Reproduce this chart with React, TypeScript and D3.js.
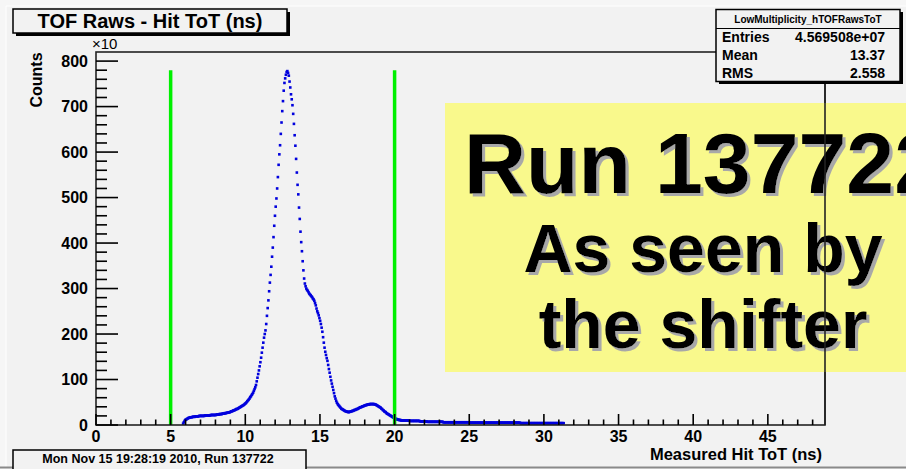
import React from "react";
import * as d3 from "d3";

// histogram: 1000 bins over 0..48.828 ns, only the filled bins are listed (counts in units of 10^3)
const BIN_WIDTH = 0.048828;
const FIRST_BIN = 119;

const riseCounts = [
  3, 6, 9, 11, 12, 13, 14, 15, 16, 16, 17,
  17, 17, 18, 18, 18, 18, 19, 19, 19, 19, 19, 20, 20, 20,
  20, 20, 20, 20, 20, 21, 21, 21, 21, 21, 21, 21, 21, 22, 22, 22, 22, 22, 22, 22,
  22, 23, 23, 23, 23, 24, 24, 24, 24, 25, 25, 25, 26, 26, 26, 27, 27, 27, 28, 28, 29,
  30, 30, 31, 32, 32, 33, 34, 35, 35, 36, 37, 38, 39, 40, 41, 42, 43, 44, 45, 47,
  48, 50, 52, 54, 56, 58, 61, 63, 66, 68, 71, 75, 79, 83, 88, 96, 104, 112, 120, 129,
  138, 148, 159, 170, 181, 192, 200, 208,
];

const peakCounts = [
  222, 240, 257, 274, 294, 313, 330, 348, 370, 390, 413, 438, 460, 480, 498,
  520, 545, 572, 595, 615, 640, 665, 690, 712, 735, 752, 762, 770, 776, 778,
  774, 768, 755, 742, 727, 716, 703, 684, 662, 637, 614, 585, 555, 528, 507,
];

const fallCounts = [
  478, 453, 425, 402, 382, 360, 340, 322, 311, 305,
  300, 297, 295, 292, 289, 287, 285, 283, 281, 278,
  276, 273, 268, 263, 256, 250, 246, 241, 235, 229,
  222, 214, 205, 193, 181, 170, 161, 154, 147, 141,
  132, 123, 115, 106, 98, 91, 84, 77, 70, 63,
  58, 53, 49, 46, 44, 42, 40, 38, 36, 35,
  34, 33, 32, 31, 30, 30, 29, 29, 28, 29, 29, 30, 30,
];

const bumpCounts = [
  31, 31, 32, 33, 33, 34, 35, 35, 36, 37,
  38, 39, 39, 40, 41, 41, 42, 43, 43, 44,
  44, 45, 45, 45, 46, 46, 46, 46, 46, 46,
  46, 45, 45, 44, 43, 42, 41, 40, 39, 38,
  36, 35, 33, 32, 30, 29, 28, 26, 25, 24,
  23, 22, 21, 20, 19, 18, 17, 16, 15, 14,
  13, 13, 12, 12, 11, 11, 11, 10, 10,
];

const tailCounts = [
  10, 10, 10, 10, 10, 10, 10, 10, 10, 10, 9, 9, 9, 9, 9, 9, 9, 9, 9, 9, 9,
  9, 9, 9, 8, 8, 8, 8, 8, 8, 8, 8, 8, 8, 7, 7, 7, 7, 7, 7, 7,
  7, 7, 7, 7, 7, 7, 7, 7, 7, 7, 7, 7, 7, 7, 7,
  6, 6, 6, 6, 6, 6, 6, 6, 6, 6, 6, 6, 6, 6, 6, 6, 6, 6,
  6, 6, 6, 6, 6, 6, 6, 6, 6, 6, 6, 6, 6, 6, 6, 6, 6, 6,
  5, 5, 5, 5, 5, 5, 5, 5, 5, 5, 5, 5, 5, 5, 5, 5, 5, 5, 5, 5,
  5, 5, 5, 5, 5, 5, 5, 5, 5, 5, 5, 5, 5, 5, 5, 5, 5, 5, 5, 5,
  5, 5, 5, 5, 5, 5, 5, 5, 5, 5, 5, 5, 5, 5, 5, 5, 5, 5, 5, 5,
  5, 5, 5, 5, 5, 5, 5, 5, 5, 5,
  4, 4, 4, 4, 4, 4, 4, 4, 4, 4, 4, 4, 4, 4, 4, 4, 4, 4, 4, 4,
  4, 4, 4, 4, 4, 4, 4, 4, 4, 4, 4, 4, 4, 4, 4, 4, 4, 4, 4, 4,
  4, 4, 4, 4, 4, 4, 4, 4, 4, 4, 4, 4, 4, 4, 4, 4, 4, 4, 4, 4,
];

const xTickValues = [0, 5, 10, 15, 20, 25, 30, 35, 40, 45];
const yTickValues = [0, 100, 200, 300, 400, 500, 600, 700, 800];
const cutValues = [5, 20];
const CUT_HEIGHT = 780;

const statLabels = ["Entries", "Mean", "RMS"];
const statValues = ["4.569508e+07", "13.37", "2.558"];

const stickerLines = ["Run 137722", "As seen by", "the shifter"];

const FONT = "'Liberation Sans', Arial, Helvetica, sans-serif";
const BG = "#f2f2f2";

const W = 906;
const H = 469;
const plot = { left: 96, right: 825, top: 52, bottom: 425 };

export default function App() {
  const counts = [...riseCounts, ...peakCounts, ...fallCounts, ...bumpCounts, ...tailCounts];
  const bins = counts.map((c, i) => ({ x: (FIRST_BIN + i + 0.5) * BIN_WIDTH, c }));

  const x = d3.scaleLinear().domain([0, 1000 * BIN_WIDTH]).range([plot.left, plot.right]);
  const y = d3.scaleLinear().domain([0, 820]).range([plot.bottom, plot.top]);

  const xMinor = d3.range(0, 49, 1).filter((v) => v % 5 !== 0);
  const yMinor = d3.range(0, 820, 20).filter((v) => v % 100 !== 0);

  // sticker text: size / baseline per line
  const stickerStyle = [
    { size: 86, base: 193 },
    { size: 68, base: 272 },
    { size: 68, base: 348 },
  ];

  return (
    <svg width={W} height={H} style={{ position: "absolute", left: 0, top: 0 }}>
      <defs>
        <filter id="shade" x="-10%" y="-10%" width="130%" height="130%">
          <feOffset in="SourceAlpha" dx={3} dy={3} result="off" />
          <feFlood floodColor="#a8a8a8" />
          <feComposite in2="off" operator="in" result="sh" />
          <feMerge>
            <feMergeNode in="sh" />
            <feMergeNode in="SourceGraphic" />
          </feMerge>
        </filter>
      </defs>

      <rect x={0} y={0} width={W} height={H} fill="#f6f6f6" />
      <rect x={6} y={6} width={W} height={461} fill={BG} />
      <line x1={6} y1={6} x2={W} y2={6} stroke="#ffffff" />
      <line x1={6} y1={6} x2={6} y2={467} stroke="#ffffff" />
      <line x1={0} y1={467.5} x2={W} y2={467.5} stroke="#8a8a8a" strokeWidth={2} />

      {/* histogram markers */}
      <g fill="#0000dd">
        {bins.map((b, i) => (
          <rect key={i} x={x(b.x) - 1.3} y={y(b.c) - 1.3} width={2.6} height={2.6} />
        ))}
      </g>

      {/* cut lines */}
      {cutValues.map((v) => (
        <line key={v} x1={x(v)} x2={x(v)} y1={y(0)} y2={y(CUT_HEIGHT)} stroke="#00f000" strokeWidth={3.5} />
      ))}

      {/* frame */}
      <rect x={plot.left} y={plot.top} width={plot.right - plot.left} height={plot.bottom - plot.top}
        fill="none" stroke="#222" strokeWidth={1.6} />

      {/* ticks */}
      <g stroke="#000" strokeWidth={1.6}>
        {yTickValues.map((v) => (
          <line key={"ym" + v} x1={plot.left} x2={plot.left + 22} y1={y(v)} y2={y(v)} />
        ))}
        {yMinor.map((v) => (
          <line key={"yn" + v} x1={plot.left} x2={plot.left + 11} y1={y(v)} y2={y(v)} />
        ))}
        {xTickValues.map((v) => (
          <line key={"xm" + v} x1={x(v)} x2={x(v)} y1={plot.bottom} y2={plot.bottom - 11} />
        ))}
        {xMinor.map((v) => (
          <line key={"xn" + v} x1={x(v)} x2={x(v)} y1={plot.bottom} y2={plot.bottom - 5.5} />
        ))}
      </g>

      <g fontFamily={FONT} fontWeight="bold" fontSize={16} fill="#000">
        {yTickValues.map((v) => (
          <text key={"yl" + v} x={plot.left - 8} y={y(v) + 5.6} textAnchor="end">{v}</text>
        ))}
        {xTickValues.map((v) => (
          <text key={"xl" + v} x={x(v)} y={plot.bottom + 17} textAnchor="middle">{v}</text>
        ))}
        <text x={822} y={460} textAnchor="end" fontSize={16.5}>Measured Hit ToT (ns)</text>
        <text transform="translate(42,80) rotate(-90)" textAnchor="middle">Counts</text>
      </g>
      <text x={92} y={49} fontFamily={FONT} fontSize={15} fill="#000">×10</text>

      {/* sticker */}
      <rect x={445} y={103} width={520} height={269} fill="#f9f98c" />
      <g fontFamily={FONT} fontWeight="bold" textAnchor="middle" fill="#000" filter="url(#shade)">
        {stickerLines.map((t, i) => (
          <text key={t} x={703} y={stickerStyle[i].base} fontSize={stickerStyle[i].size}>{t}</text>
        ))}
      </g>
      <line x1={plot.right} x2={plot.right} y1={plot.top} y2={plot.bottom} stroke="#222" strokeWidth={1.6} />

      {/* title box */}
      <rect x={16} y={12} width={274} height={24} fill="#000" />
      <rect x={13} y={9} width={274} height={24} fill={BG} stroke="#000" strokeWidth={1.5} />
      <text x={150} y={28} textAnchor="middle" fontFamily={FONT} fontWeight="bold" fontSize={20}>
        TOF Raws - Hit ToT (ns)
      </text>

      {/* stats box */}
      <rect x={719} y={12} width={184} height={72} fill="#000" />
      <rect x={716} y={9.5} width={184} height={72} fill={BG} stroke="#000" strokeWidth={1.5} />
      <line x1={716} x2={900} y1={28.5} y2={28.5} stroke="#000" strokeWidth={1.2} />
      <text x={808} y={23} textAnchor="middle" fontFamily={FONT} fontWeight="bold" fontSize={10}>
        LowMultiplicity_hTOFRawsToT
      </text>
      <g fontFamily={FONT} fontWeight="bold" fontSize={14}>
        {statLabels.map((l, i) => (
          <g key={l}>
            <text x={722} y={42 + i * 18}>{l}</text>
            <text x={885} y={42 + i * 18} textAnchor="end">{statValues[i]}</text>
          </g>
        ))}
      </g>

      {/* date box */}
      <rect x={13} y={450} width={293} height={20} fill={BG} stroke="#000" strokeWidth={1.5} />
      <text x={158} y={463} textAnchor="middle" fontFamily={FONT} fontWeight="bold" fontSize={12.5}>
        Mon Nov 15 19:28:19 2010, Run 137722
      </text>
    </svg>
  );
}
